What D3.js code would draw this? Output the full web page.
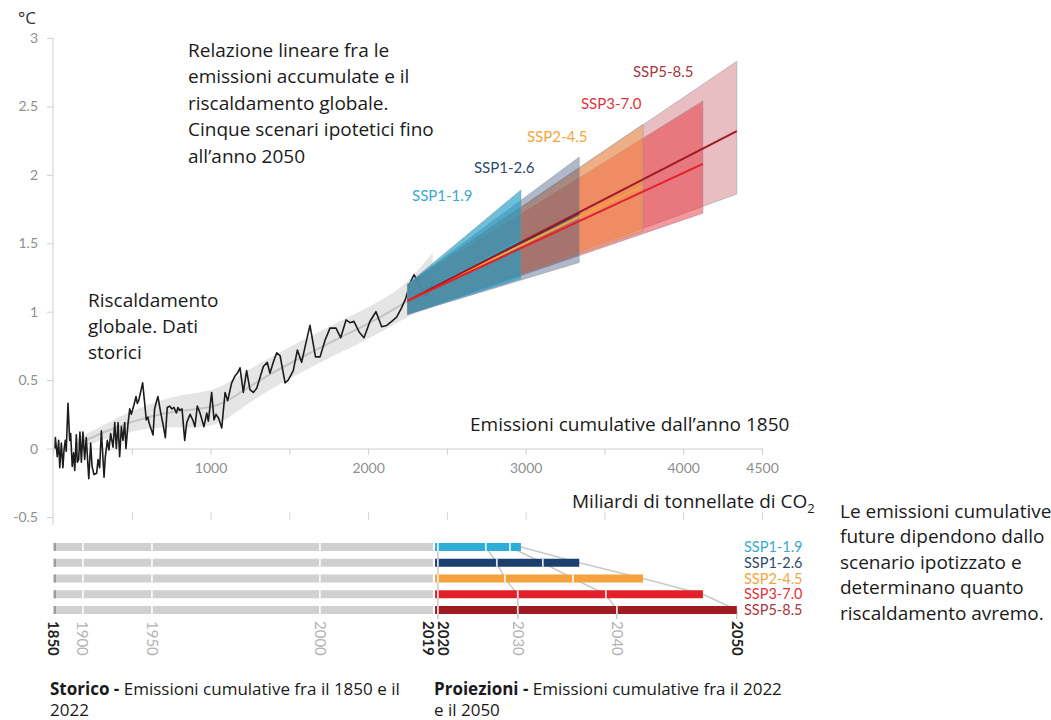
<!DOCTYPE html>
<html>
<head>
<meta charset="utf-8">
<script src="https://cdn.jsdelivr.net/npm/d3@7"></script>
<style>
  body { margin: 0; background: #fff; }
  svg { display: block; }
</style>
</head>
<body>
<div id="chart"></div>
<script>

// historical warming vs cumulative CO2 (GtCO2 since 1850, °C)
const histEmissions = [13, 15, 27, 36, 43, 53, 63, 70, 78, 84, 95, 106, 112, 122, 131, 138, 148, 154, 163, 171,
    180, 190, 201, 211, 227, 239, 248, 260, 277, 286, 296, 307, 324, 332, 345, 355, 366, 381, 392, 402,
    413, 423, 434, 444, 455, 463, 476, 487, 497, 514, 527, 535, 544, 569, 582, 592, 603, 609, 618, 635,
    645, 656, 666, 684, 698, 713, 725, 741, 755, 768, 783, 793, 804, 819, 836, 849, 870, 887, 901, 916,
    933, 958, 976, 986, 1007, 1022, 1035, 1052, 1071, 1092, 1109, 1134, 1155, 1170, 1187, 1208, 1229, 1250, 1271, 1293,
    1314, 1335, 1360, 1377, 1398, 1420, 1441, 1473, 1493, 1525, 1551, 1578, 1599, 1631, 1666, 1695, 1726, 1758, 1796, 1826,
    1860, 1885, 1910, 1944, 1974, 2012, 2050, 2086, 2118, 2150, 2181, 2213, 2240, 2266, 2291, 2340, 2372, 2397, 2414];
const histTemps = [0.0, 0.08, -0.06, 0.06, -0.14, 0.04, -0.14, -0.01, 0.06, -0.02, 0.33, 0.06, 0.11, -0.13, -0.03, -0.16, 0.1, -0.1, -0.08, 0.12,
    -0.1, 0.12, -0.08, 0.08, -0.22, 0.04, -0.13, -0.19, -0.18, -0.08, -0.14, 0.13, -0.21, -0.06, 0.06, -0.01, 0.11, 0.01, 0.19, 0.0,
    0.19, -0.06, 0.16, 0.06, 0.19, 0.0, 0.18, 0.29, 0.25, 0.32, 0.38, 0.33, 0.35, 0.48, 0.33, 0.21, 0.23, 0.19, 0.16, 0.1,
    0.29, 0.34, 0.38, 0.26, 0.18, 0.08, 0.3, 0.31, 0.29, 0.3, 0.26, 0.3, 0.28, 0.29, 0.06, 0.19, 0.25, 0.21, 0.16, 0.31,
    0.26, 0.16, 0.26, 0.2, 0.41, 0.21, 0.25, 0.22, 0.15, 0.41, 0.35, 0.48, 0.53, 0.55, 0.59, 0.41, 0.57, 0.43, 0.41, 0.44,
    0.52, 0.6, 0.63, 0.55, 0.63, 0.7, 0.68, 0.48, 0.5, 0.57, 0.72, 0.63, 0.74, 0.9, 0.67, 0.67, 0.79, 0.88, 0.88, 0.81,
    0.94, 0.92, 0.93, 0.85, 0.81, 0.93, 1.0, 0.89, 0.9, 0.93, 0.96, 1.03, 1.1, 1.21, 1.27, 1.17, 1.11, 1.18, 1.23];

// grey uncertainty band around the historical trend
const bandEmissions = [150, 300, 500, 700, 850, 1000, 1100, 1200, 1400, 1600, 1800, 2000, 2200, 2300, 2410];
const bandLow  = [0.0, 0.06, 0.13, 0.16, 0.15, 0.16, 0.21, 0.3, 0.45, 0.57, 0.69, 0.8, 0.93, 0.99, 1.03];
const bandHigh = [0.07, 0.16, 0.28, 0.36, 0.4, 0.42, 0.47, 0.55, 0.68, 0.8, 0.92, 1.03, 1.16, 1.28, 1.43];
const bandMid  = [0.03, 0.11, 0.2, 0.26, 0.28, 0.3, 0.34, 0.42, 0.56, 0.68, 0.8, 0.91, 1.04, 1.12, 1.2];

// scenarios
const scenarios   = ['SSP1-1.9', 'SSP1-2.6', 'SSP2-4.5', 'SSP3-7.0', 'SSP5-8.5'];
const lineColors  = ['#2eaed6', '#1b3f6e', '#f3a23c', '#e3202a', '#9e1b22'];
const fillColors  = ['#1e9cc4', '#3a4f7a', '#f5a04a', '#e8323a', '#c04550'];
const fillOpacity = [0.65, 0.4, 0.5, 0.5, 0.35];
const labelColors = ['#3aa9cf', '#2e4a6b', '#f2a540', '#e0343a', '#a8373d'];

const fanStartE = 2250, fanStartLow = 0.98, fanStartHigh = 1.2, fanStartMid = 1.08;
const fanEndE    = [2970, 3340, 3745, 4125, 4340];
const fanEndLow  = [1.24, 1.36, 1.59, 1.72, 1.86];
const fanEndHigh = [1.89, 2.13, 2.37, 2.54, 2.83];
const fanEndMid  = [1.52, 1.72, 1.92, 2.08, 2.32];

// scenario label anchors (emission, °C)
const labelE = [2279, 2672, 3008, 3351, 3681];
const labelT = [1.85, 2.05, 2.28, 2.52, 2.75];

// cumulative emissions by year, for the bars
const histYears = [1850, 1900, 1950, 2000, 2019];
const histCum   = [0, 190, 628, 1694, 2411];
const projStartE = 2425;
const cum2020 = 2443;
const cum2030 = [2747, 2817, 2868, 2950, 2950];
const cum2040 = [2900, 3109, 3300, 3509, 3579];
const cum2050 = fanEndE;

const yTicks = [-0.5, 0, 0.5, 1, 1.5, 2, 2.5, 3];
const xTicks = [0, 500, 1000, 1500, 2000, 2500, 3000, 3500, 4000, 4500];
const xTickLabels = [1000, 2000, 3000, 4000, 4500];

const width = 1051;
const height = 720;

const svg = d3.select('#chart')
    .append('svg')
    .attr('width', width)
    .attr('height', height)
    .style('background', '#fff');

const scaleX = d3.scaleLinear().domain([0, 4500]).range([53, 762]);
const scaleY = d3.scaleLinear().domain([-0.5, 3]).range([517, 38]);

const tickFont = 'Lato, sans-serif';
const textFont = '"Open Sans", sans-serif';

// axes
const yAxis = svg.append('g')
    .attr('transform', `translate(${scaleX(0)},0)`)
    .call(d3.axisLeft(scaleY).tickValues(yTicks).tickSize(6).tickPadding(9).tickSizeOuter(0)
        .tickFormat(d => String(d)));
yAxis.select('.domain').attr('stroke', '#cfcfcf').attr('d', `M0,${scaleY(3)}V${scaleY(-0.5) + 8}`);
yAxis.selectAll('line').attr('stroke', '#cfcfcf');
yAxis.selectAll('text').attr('fill', '#8f8f8f').style('font', `14px ${tickFont}`);

const xAxis = svg.append('g')
    .attr('transform', `translate(0,${scaleY(0)})`)
    .call(d3.axisBottom(scaleX).tickValues(xTicks).tickSize(6).tickPadding(8).tickSizeOuter(0)
        .tickFormat(d => xTickLabels.includes(d) ? d : ''));
xAxis.select('.domain').attr('stroke', '#cfcfcf');
xAxis.selectAll('line').attr('stroke', '#cfcfcf');
xAxis.selectAll('text').attr('fill', '#8f8f8f').style('font', `14px ${tickFont}`);

const xAxisLow = svg.append('g')
    .attr('transform', `translate(0,${scaleY(-0.5) - 5})`)
    .call(d3.axisBottom(scaleX).tickValues(xTicks.slice(1)).tickSize(8).tickFormat(''));
xAxisLow.select('.domain').remove();
xAxisLow.selectAll('line').attr('stroke', '#d6d6d6');

// historical band
const band = bandEmissions.map((e, i) => ({ e: e, lo: bandLow[i], hi: bandHigh[i], mid: bandMid[i] }));
svg.append('path')
    .attr('d', d3.area().curve(d3.curveBasis)
        .x(d => scaleX(d.e)).y0(d => scaleY(d.lo)).y1(d => scaleY(d.hi))(band))
    .attr('fill', '#dcdcdc')
    .attr('opacity', 0.75);
svg.append('path')
    .attr('d', d3.line().curve(d3.curveBasis).x(d => scaleX(d.e)).y(d => scaleY(d.mid))(band))
    .attr('fill', 'none')
    .attr('stroke', '#c4c4c4')
    .attr('stroke-width', 2);

// historical line
const hist = histEmissions.map((e, i) => ({ e: e, t: histTemps[i] }));
svg.append('path')
    .attr('d', d3.line().x(d => scaleX(d.e)).y(d => scaleY(d.t))(hist))
    .attr('fill', 'none')
    .attr('stroke', '#1c1c1c')
    .attr('stroke-width', 1.6)
    .attr('stroke-linejoin', 'round');

// fans, SSP5-8.5 at the bottom
const fanArea = d3.area().x(d => scaleX(d.e)).y0(d => scaleY(d.lo)).y1(d => scaleY(d.hi));
const order = [4, 3, 2, 1, 0];
order.forEach(i => {
    const pts = [
        { e: fanStartE, lo: fanStartLow, hi: fanStartHigh },
        { e: fanEndE[i], lo: fanEndLow[i], hi: fanEndHigh[i] }
    ];
    svg.append('path')
        .attr('d', fanArea(pts) + 'Z')
        .attr('fill', fillColors[i])
        .attr('fill-opacity', fillOpacity[i])
        .attr('stroke', '#8a8f9a')
        .attr('stroke-opacity', 0.45)
        .attr('stroke-width', 1);
});

// median lines
const medLine = d3.line().x(d => scaleX(d.e)).y(d => scaleY(d.t));
[0, 1, 2, 4, 3].forEach(i => {
    svg.append('path')
        .attr('d', medLine([{ e: fanStartE, t: fanStartMid }, { e: fanEndE[i], t: fanEndMid[i] }]))
        .attr('fill', 'none')
        .attr('stroke', lineColors[i])
        .attr('stroke-width', 2);
});

// scenario labels
svg.append('g')
    .selectAll('text')
    .data(scenarios)
    .enter()
    .append('text')
    .attr('x', (d, i) => scaleX(labelE[i]))
    .attr('y', (d, i) => scaleY(labelT[i]))
    .attr('dy', '0.35em')
    .attr('fill', (d, i) => labelColors[i])
    .style('font', `15px ${tickFont}`)
    .text(d => d);

// ---- bars ----
const rowY = d3.scalePoint().domain(scenarios).range([547, 610]);
const barH = 8;
const labelTop = 621;

// connector lines for 2030 / 2040 / 2050
[cum2030, cum2040, cum2050].forEach(cum => {
    const pts = scenarios.map((s, i) => [scaleX(cum[i]), rowY(s)]);
    pts.push([scaleX(cum[4]), labelTop - 2]);
    svg.append('path')
        .attr('d', d3.line()(pts))
        .attr('fill', 'none')
        .attr('stroke', '#c9c9c9')
        .attr('stroke-width', 1.5);
});
svg.append('line')
    .attr('x1', scaleX(cum2020)).attr('x2', scaleX(cum2020))
    .attr('y1', rowY(scenarios[0])).attr('y2', labelTop - 2)
    .attr('stroke', '#c9c9c9')
    .attr('stroke-width', 1.5);

const bars = svg.append('g');
scenarios.forEach((s, i) => {
    const y = rowY(s) - barH / 2;
    bars.append('rect')
        .attr('x', scaleX(histCum[0]))
        .attr('y', y)
        .attr('width', scaleX(histCum[4]) - scaleX(histCum[0]))
        .attr('height', barH)
        .attr('fill', '#d0d0d0');
    bars.append('rect')
        .attr('x', scaleX(histCum[0]) + 1)
        .attr('y', y)
        .attr('width', 2)
        .attr('height', barH)
        .attr('fill', '#9c9c9c');
    bars.append('rect')
        .attr('x', scaleX(projStartE))
        .attr('y', y)
        .attr('width', scaleX(cum2050[i]) - scaleX(projStartE))
        .attr('height', barH)
        .attr('fill', lineColors[i]);
    const seps = [histCum[1], histCum[2], histCum[3], cum2020, cum2030[i], cum2040[i]];
    seps.forEach(e => {
        bars.append('line')
            .attr('x1', scaleX(e)).attr('x2', scaleX(e))
            .attr('y1', y).attr('y2', y + barH)
            .attr('stroke', '#fff')
            .attr('stroke-opacity', 0.85)
            .attr('stroke-width', 1.8);
    });
});

// year labels, rotated
const yearLabels = [
    { year: 1850, e: histCum[0], dx: 0, bold: true },
    { year: 1900, e: histCum[1], dx: -1, bold: false },
    { year: 1950, e: histCum[2], dx: 0, bold: false },
    { year: 2000, e: histCum[3], dx: 0, bold: false },
    { year: 2019, e: histCum[4], dx: -5, bold: true },
    { year: 2020, e: cum2020, dx: 5, bold: true },
    { year: 2030, e: cum2030[4], dx: 0, bold: false },
    { year: 2040, e: cum2040[4], dx: 0, bold: false },
    { year: 2050, e: cum2050[4], dx: 0, bold: true }
];
svg.append('g')
    .selectAll('text')
    .data(yearLabels)
    .enter()
    .append('text')
    .attr('transform', d => `translate(${scaleX(d.e) + d.dx},${labelTop}) rotate(90)`)
    .attr('dy', '0.35em')
    .attr('fill', d => d.bold ? '#222' : '#b3b3b3')
    .style('font', d => `${d.bold ? 'bold ' : ''}15px ${tickFont}`)
    .text(d => d.year);

// legend for the bars
svg.append('g')
    .selectAll('text')
    .data(scenarios)
    .enter()
    .append('text')
    .attr('x', 744)
    .attr('y', d => rowY(d))
    .attr('dy', '0.35em')
    .attr('fill', (d, i) => labelColors[i])
    .style('font', `14.5px ${tickFont}`)
    .text(d => d);

// ---- annotations ----
function block(x, y, lines, size, lh) {
    const t = svg.append('text')
        .attr('x', x)
        .attr('y', y)
        .attr('fill', '#1a1a1a')
        .style('font', `${size}px ${textFont}`);
    lines.forEach((l, i) => {
        t.append('tspan').attr('x', x).attr('y', y + i * lh).attr('dy', '0.35em').text(l);
    });
    return t;
}

svg.append('text')
    .attr('x', 18).attr('y', 18).attr('dy', '0.35em')
    .attr('fill', '#333')
    .style('font', `17px ${textFont}`)
    .text('°C');

block(188, 50, ['Relazione lineare fra le', 'emissioni accumulate e il', 'riscaldamento globale.',
    'Cinque scenari ipotetici fino', 'all’anno 2050'], 19, 26.5);
block(88, 300, ['Riscaldamento', 'globale. Dati', 'storici'], 19, 26);
block(470, 424, ['Emissioni cumulative dall’anno 1850'], 19, 26);

const co2 = svg.append('text')
    .attr('x', 572).attr('y', 501).attr('dy', '0.35em')
    .attr('fill', '#1a1a1a')
    .style('font', `19px ${textFont}`);
co2.append('tspan').text('Miliardi di tonnellate di CO');
co2.append('tspan').attr('dy', '5').style('font-size', '13px').text('2');

block(840, 511, ['Le emissioni cumulative', 'future dipendono dallo', 'scenario ipotizzato e',
    'determinano quanto', 'riscaldamento avremo.'], 19, 25.5);

function caption(x, y, boldPart, lines) {
    const t = svg.append('text')
        .attr('fill', '#1a1a1a')
        .style('font', `17px ${textFont}`);
    t.append('tspan').attr('x', x).attr('y', y).attr('dy', '0.35em')
        .style('font-weight', 'bold').text(boldPart);
    t.append('tspan').text(lines[0]);
    t.append('tspan').attr('x', x).attr('y', y + 21).attr('dy', '0.35em').text(lines[1]);
}
caption(50, 689, 'Storico -', [' Emissioni cumulative fra il 1850 e il', '2022']);
caption(434, 689, 'Proiezioni -', [' Emissioni cumulative fra il 2022', 'e il 2050']);

</script>
</body>
</html>
